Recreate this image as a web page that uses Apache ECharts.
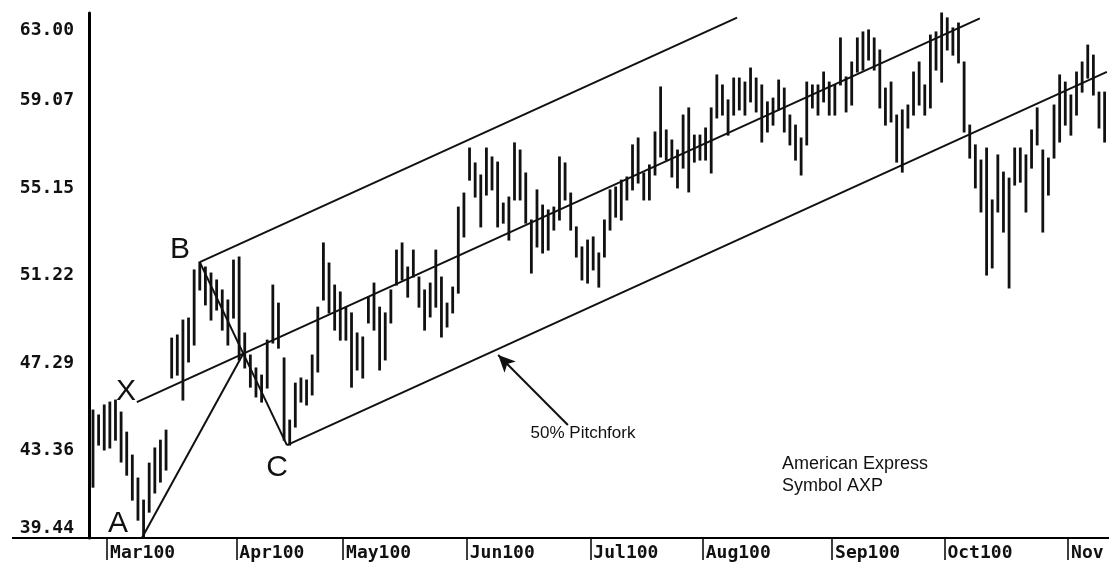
<!DOCTYPE html>
<html><head><meta charset="utf-8">
<script src="https://cdn.jsdelivr.net/npm/echarts@6/dist/echarts.min.js"></script>
<style>html,body{margin:0;padding:0;background:#fff}#c{width:1109px;height:563px}</style>
</head><body><div id="c"></div>
<script>
// Daily high / low of American Express (AXP), Feb 25 2000 .. Nov 9 2000
const highs = [
45.18,44.96,45.41,
45.54,45.63,45.09,44.19,43.16,42.13,41.14,42.80,43.48,43.83,
44.28,48.41,48.55,49.22,49.31,51.47,51.82,51.60,51.33,51.02,
50.57,50.12,51.91,
52.05,48.64,47.65,47.07,46.75,48.32,50.79,49.98,47.52,44.73,
46.39,46.62,46.53,47.65,49.80,52.68,51.78,50.79,50.48,
49.80,49.54,48.64,48.46,50.25,50.88,49.80,49.54,50.57,52.36,
52.68,51.60,52.36,51.15,50.57,50.88,52.36,51.15,49.98,50.70,
54.29,54.92,
56.94,56.27,55.73,56.94,56.54,56.31,54.47,54.74,57.17,56.85,
55.82,53.71,55.06,54.38,54.16,54.29,56.54,56.27,54.92,53.40,
52.50,52.81,
52.95,52.23,53.71,55.06,55.19,55.50,55.64,57.08,57.39,55.82,
56.18,57.66,59.68,57.75,57.30,56.85,58.42,58.74,57.52,57.52,
57.84,58.74,60.22,59.77,59.10,60.08,60.08,59.90,60.53,60.08,
59.77,59.01,59.18,59.99,59.63,58.42,57.97,57.39,59.90,59.77,
59.77,60.35,59.90,
59.77,61.88,60.13,60.80,61.88,62.15,62.24,61.88,61.34,59.63,
59.90,58.42,58.65,58.87,60.35,60.80,59.77,62.01,62.15,63.00,
62.78,62.33,62.55,60.80,57.97,57.08,56.40,56.94,54.61,56.63,
55.86,55.59,56.94,56.94,56.63,57.75,58.74,56.85,56.49,58.87,
60.22,59.90,
59.32,60.35,60.80,61.56,61.11,59.45,59.45
];
const lows = [
41.72,43.61,43.39,
43.48,43.83,42.85,42.26,41.14,40.24,39.44,40.60,41.46,41.95,
42.49,46.62,46.75,45.63,47.34,48.10,50.57,49.90,49.22,49.67,
48.77,48.10,49.31,
47.43,47.07,46.21,45.77,45.54,46.17,48.19,47.96,43.83,43.61,
44.42,45.54,45.41,45.86,46.89,50.12,49.54,48.77,48.32,
48.32,46.21,46.98,46.62,49.09,48.77,46.98,47.43,49.09,50.79,
51.02,50.25,51.15,49.80,48.77,49.36,49.80,48.46,48.91,49.54,
50.43,52.95,
55.50,54.74,53.40,54.83,55.06,53.40,53.57,52.81,54.61,54.61,
53.57,51.33,52.50,52.23,52.36,53.26,53.71,54.61,53.26,52.05,
51.02,50.88,
51.47,50.70,52.05,53.26,53.84,53.71,54.61,55.06,55.37,54.61,
54.61,55.73,56.54,56.40,55.64,55.15,56.04,54.97,56.31,56.40,
56.40,55.82,58.29,58.42,57.52,58.42,58.65,58.42,59.01,58.56,
57.21,57.66,57.97,58.65,57.66,57.08,56.40,55.73,57.08,58.74,
58.42,59.01,58.42,
58.42,59.77,58.56,58.87,60.35,60.44,60.89,60.44,58.74,57.97,
58.11,56.31,55.86,57.84,58.42,58.87,58.42,58.74,60.44,59.90,
61.34,61.11,60.76,57.66,56.49,55.15,54.07,51.24,51.56,54.07,
53.17,50.66,55.28,55.41,54.07,56.04,57.08,53.17,54.83,56.49,
57.21,57.97,
57.52,58.42,59.45,60.08,59.32,57.84,57.21
];
// first trading day (bar index) of each month and its label
const monthStartIndex = [3, 26, 45, 67, 89, 109, 132, 152, 174];
const monthLabels = ['Mar100','Apr100','May100','Jun100','Jul100','Aug100','Sep100','Oct100','Nov'];
const yTicks = [39.44, 43.36, 47.29, 51.22, 55.15, 59.07, 63.00];

// pitchfork pivots [bar index, price]
const pivotA = [8.7, 39.44];
const pivotB = [19.0, 51.82];
const pivotC = [34.5, 43.61];
const handleStart = [7.8, 45.54];
const tineEnds = [114.6, 157.8, 180.4]; // upper, median, lower
const arrowFrom = [84.5, 44.51];
const arrowTo = [72.1, 47.65];

const monthTicks = monthStartIndex.map(i => i - 0.5);
const mid = [(pivotB[0] + pivotC[0]) / 2, (pivotB[1] + pivotC[1]) / 2];
const slope = (mid[1] - handleStart[1]) / (mid[0] - handleStart[0]);
const ext = (p, xe) => [p, [xe, p[1] + slope * (xe - p[0])]];

const ink = '#111';
const lineSeries = (data, extra) => Object.assign({
  type: 'line', data: data, showSymbol: false, silent: true, animation: false,
  lineStyle: { color: ink, width: 2 }, z: 3
}, extra || {});

const chart = echarts.init(document.getElementById('c'), null, { renderer: 'canvas' });
const monoFont = '"DejaVu Sans Mono", monospace';

chart.setOption({
  animation: false,
  backgroundColor: '#fff',
  grid: { left: 89, right: 0, top: 13, bottom: 25, containLabel: false, outerBoundsMode: 'none' },
  xAxis: {
    type: 'value', min: -0.71, max: 180.78,
    splitLine: { show: false },
    axisLine: { onZero: false, lineStyle: { color: '#000', width: 2 } },
    axisTick: { show: true, customValues: monthTicks, length: 22, lineStyle: { color: '#000', width: 1.5 } },
    axisLabel: {
      customValues: monthTicks, align: 'left', margin: 6, padding: [0, 0, 0, 3],
      fontFamily: monoFont, fontWeight: 'bold', fontSize: 18, color: ink,
      hideOverlap: false,
      formatter: v => {
        const k = monthTicks.findIndex(t => Math.abs(t - v) < 1e-6);
        return k >= 0 ? monthLabels[k] : '';
      }
    }
  },
  yAxis: {
    type: 'value', min: 39.44, max: 63.00,
    splitLine: { show: false },
    axisLine: { show: true, onZero: false, lineStyle: { color: '#000', width: 3 } },
    axisTick: { show: false },
    axisLabel: {
      customValues: yTicks, margin: 15,
      fontFamily: monoFont, fontWeight: 'bold', fontSize: 18, color: ink,
      formatter: v => {
        const s = v.toFixed(2);
        if (v > 62.99) return '{t|' + s + '}';
        if (v < 39.45) return '{b|' + s + '}';
        return s;
      },
      rich: {
        t: { padding: [34, 0, 0, 0], fontFamily: monoFont, fontWeight: 'bold', fontSize: 18, color: ink },
        b: { padding: [0, 0, 20, 0], fontFamily: monoFont, fontWeight: 'bold', fontSize: 18, color: ink }
      }
    }
  },
  series: [
    {
      type: 'custom', silent: true, z: 2,
      data: highs.map((h, i) => [i, h, lows[i]]),
      encode: { x: 0, y: [1, 2] },
      renderItem: (params, api) => {
        const i = api.value(0);
        const hi = api.coord([i, api.value(1)]);
        const lo = api.coord([i, api.value(2)]);
        return { type: 'line', shape: { x1: hi[0], y1: hi[1] - 0.5, x2: lo[0], y2: lo[1] + 0.5 },
          style: { stroke: ink, lineWidth: 2.8 } };
      }
    },
    lineSeries([pivotA, mid]),
    lineSeries([pivotB, pivotC]),
    lineSeries(ext(handleStart, tineEnds[1])),
    lineSeries(ext(pivotB, tineEnds[0])),
    lineSeries(ext(pivotC, tineEnds[2]), {
      markLine: {
        silent: true, animation: false,
        symbol: ['none', 'arrow'], symbolSize: [12, 17],
        lineStyle: { color: ink, width: 2, type: 'solid' },
        label: { show: false },
        data: [[{ coord: arrowFrom }, { coord: arrowTo }]]
      }
    })
  ],
  graphic: [
    { type: 'line', shape: { x1: 12, y1: 538, x2: 90, y2: 538 }, style: { stroke: '#000', lineWidth: 2 } },
    { type: 'text', x: 118, y: 524, style: { text: 'A', font: '30px "Liberation Sans", Arial', fill: ink, align: 'center', verticalAlign: 'middle' } },
    { type: 'text', x: 180, y: 250, style: { text: 'B', font: '30px "Liberation Sans", Arial', fill: ink, align: 'center', verticalAlign: 'middle' } },
    { type: 'text', x: 126, y: 392, style: { text: 'X', font: '30px "Liberation Sans", Arial', fill: ink, align: 'center', verticalAlign: 'middle' } },
    { type: 'text', x: 277, y: 468, style: { text: 'C', font: '30px "Liberation Sans", Arial', fill: ink, align: 'center', verticalAlign: 'middle' } },
    { type: 'text', x: 583, y: 433, style: { text: '50% Pitchfork', font: '17px "Liberation Sans", Arial', fill: ink, align: 'center', verticalAlign: 'middle' } },
    { type: 'text', x: 782, y: 464, style: { text: 'American Express', font: '18px "Liberation Sans", Arial', fill: ink, align: 'left', verticalAlign: 'middle' } },
    { type: 'text', x: 782, y: 486, style: { text: 'Symbol AXP', font: '18px "Liberation Sans", Arial', fill: ink, align: 'left', verticalAlign: 'middle' } }
  ]
});
</script></body></html>
